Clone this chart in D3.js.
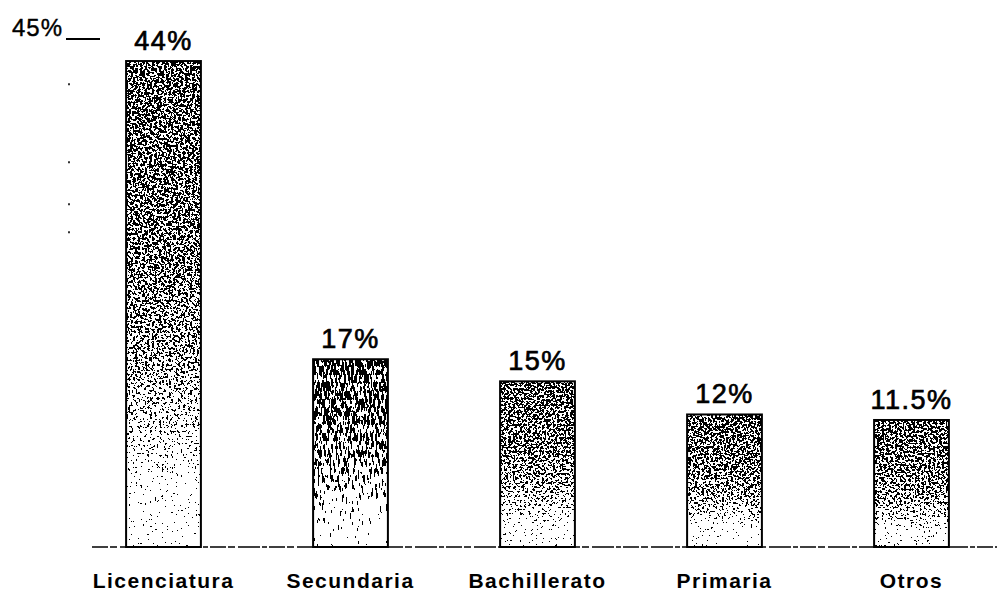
<!DOCTYPE html>
<html>
<head>
<meta charset="utf-8">
<script src="https://cdn.jsdelivr.net/npm/d3@7/dist/d3.min.js"></script>
<style>
  html, body { margin: 0; padding: 0; background: #fff; }
  svg { display: block; }
</style>
</head>
<body>
<svg id="chart" width="997" height="593"></svg>
<script>
const categories = ["Licenciatura", "Secundaria", "Bachillerato", "Primaria", "Otros"];
const values = [44, 17, 15, 12, 11.5];
const valueLabels = ["44%", "17%", "15%", "12%", "11.5%"];
const yTicks = [45];
const yTickLabels = ["45%"];

const W = 997, H = 593;
const svg = d3.select("#chart");

const x = d3.scaleBand().domain(categories).range([70, 1005]).paddingInner(0.6).paddingOuter(0.3);
const y = d3.scaleLinear().domain([0, 45]).range([547, 50]);

const defs = svg.append("defs");

// vertical density gradient (gray level drives dithering)
const grad = defs.append("linearGradient").attr("id", "fade").attr("x1", 0).attr("y1", 0).attr("x2", 0).attr("y2", 1);
[[0, 0.44], [0.4, 0.5], [0.62, 0.6], [0.78, 0.8], [0.88, 0.97], [1, 1.05]].forEach(([o, g]) => {
  const c = Math.round(Math.min(1, g) * 255);
  grad.append("stop").attr("offset", o).attr("stop-color", `rgb(${c},${c},${c})`);
});

function makeFilter(id, freq, seed) {
  const f = defs.append("filter").attr("id", id)
    .attr("x", 0).attr("y", 0).attr("width", 1).attr("height", 1)
    .attr("color-interpolation-filters", "sRGB");
  f.append("feTurbulence").attr("type", "fractalNoise").attr("baseFrequency", freq)
    .attr("numOctaves", 2).attr("seed", seed).attr("result", "noise");
  f.append("feColorMatrix").attr("in", "noise").attr("type", "matrix")
    .attr("values", "1 0 0 0 0  1 0 0 0 0  1 0 0 0 0  0 0 0 0 1").attr("result", "gray");
  f.append("feComposite").attr("in", "SourceGraphic").attr("in2", "gray").attr("operator", "arithmetic")
    .attr("k1", 0).attr("k2", 1).attr("k3", 2.2).attr("k4", -1.1).attr("result", "mix");
  const ct = f.append("feComponentTransfer").attr("in", "mix").attr("result", "bw");
  ["feFuncR", "feFuncG", "feFuncB"].forEach(fn => ct.append(fn).attr("type", "discrete").attr("tableValues", "0 1"));
  ct.append("feFuncA").attr("type", "linear").attr("slope", 0).attr("intercept", 1);
  f.append("feComposite").attr("in", "bw").attr("in2", "SourceAlpha").attr("operator", "in");
}
makeFilter("speckle0", "0.42", 3);
makeFilter("speckle1", "0.5 0.12", 7);
makeFilter("speckle2", "0.45", 11);
makeFilter("speckle3", "0.45", 19);
makeFilter("speckle4", "0.45", 23);

// bars: textured fill
svg.append("g").selectAll("rect.fill").data(categories).join("rect")
  .attr("class", "fill")
  .attr("x", d => x(d))
  .attr("y", (d, i) => y(values[i]))
  .attr("width", x.bandwidth())
  .attr("height", (d, i) => y(0) - y(values[i]))
  .attr("fill", "url(#fade)")
  .attr("filter", (d, i) => `url(#speckle${i})`);

// bars: outline
svg.append("g").selectAll("rect.outline").data(categories).join("rect")
  .attr("class", "outline")
  .attr("x", d => x(d))
  .attr("y", (d, i) => y(values[i]))
  .attr("width", x.bandwidth())
  .attr("height", (d, i) => y(0) - y(values[i]))
  .attr("fill", "none")
  .attr("stroke", "#000")
  .attr("stroke-width", 2);

// baseline (broken dashed look)
svg.append("line")
  .attr("x1", 92).attr("x2", 997)
  .attr("y1", y(0)).attr("y2", y(0))
  .attr("stroke", "#000").attr("stroke-width", 1.3)
  .attr("stroke-dasharray", "16,2,7,3,22,2,5,2");

// faint dotted y-axis
svg.append("line")
  .attr("x1", 69).attr("x2", 69)
  .attr("y1", y(42)).attr("y2", y(9))
  .attr("stroke", "#000").attr("stroke-width", 1.6)
  .attr("stroke-dasharray", "2,76,2,40,2,26,2,215");

// y tick label "45%" with tick line to the right
const yt = svg.append("g").selectAll("g").data(yTicks).join("g")
  .attr("transform", d => `translate(0,${y(d) - 11})`);
yt.append("text")
  .attr("x", 63).attr("y", -3)
  .attr("text-anchor", "end")
  .attr("font-family", "Liberation Sans, Arial, sans-serif")
  .attr("font-size", 24)
  .attr("letter-spacing", 1)
  .attr("fill", "#000")
  .attr("stroke", "#000").attr("stroke-width", 0.4)
  .text((d, i) => yTickLabels[i]);
yt.append("line")
  .attr("x1", 66).attr("x2", 100)
  .attr("y1", 0).attr("y2", 0)
  .attr("stroke", "#000").attr("stroke-width", 2);

// value labels
svg.append("g").selectAll("text").data(categories).join("text")
  .attr("x", d => x(d) + x.bandwidth() / 2)
  .attr("y", (d, i) => y(values[i]) - 11)
  .attr("text-anchor", "middle")
  .attr("font-family", "Liberation Sans, Arial, sans-serif")
  .attr("font-size", 27)
  .attr("letter-spacing", 1.5)
  .attr("fill", "#000")
  .attr("stroke", "#000").attr("stroke-width", 0.7)
  .text((d, i) => valueLabels[i]);

// category labels
svg.append("g").selectAll("text").data(categories).join("text")
  .attr("x", d => x(d) + x.bandwidth() / 2)
  .attr("y", 588)
  .attr("text-anchor", "middle")
  .attr("font-family", "Liberation Sans, Arial, sans-serif")
  .attr("font-weight", "bold")
  .attr("font-size", 21)
  .attr("letter-spacing", 1.5)
  .attr("fill", "#000")
  .text(d => d);
</script>
</body>
</html>
